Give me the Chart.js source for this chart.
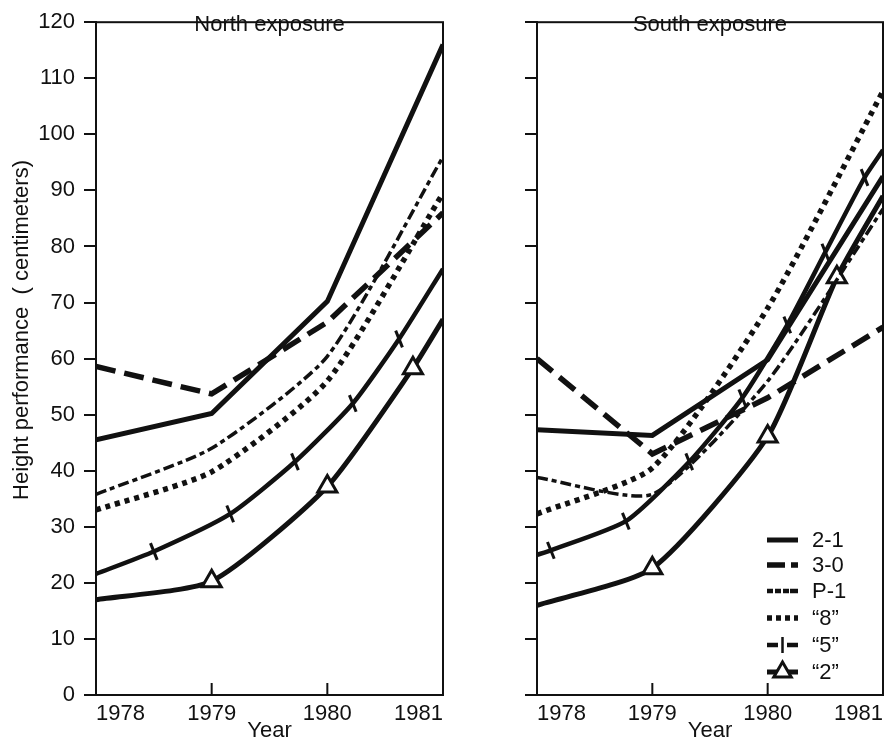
<!DOCTYPE html>
<html>
<head>
<meta charset="utf-8">
<script src="https://cdn.jsdelivr.net/npm/chart.js@4.4.0/dist/chart.umd.min.js"></script>
<style>
    body { margin: 0; background: #fff; }
    #wrap { position: relative; width: 886px; height: 744px; }
    .panel { position: absolute; top: 0; height: 744px; }
    #north { left: 0; width: 450px; }
    #south { left: 450px; width: 436px; }
</style>
</head>
<body>
<div id="wrap">
    <div class="panel" id="north"><canvas id="chartNorth"></canvas></div>
    <div class="panel" id="south"><canvas id="chartSouth"></canvas></div>
</div>
<script>
// values (height in cm)
let years = [1978, 1979, 1980, 1981];
let yTicks = [0, 120];
let seriesNames = ['2-1', '3-0', 'P-1', '“8”', '“5”', '“2”'];

// North exposure
let north21 = [45.5, 50.2, 70.2, 116];
let north30 = [58.6, 53.7, 66.5, 86];
let northP1 = [35.8, 44, 60.4, 96];
let north8 = [33, 39.8, 56, 89.5];
let north5Years = [1978, 1978.5, 1979.16, 1979.72, 1980.22, 1980.62, 1981];
let north5 = [21.6, 25.6, 32.3, 41.6, 52, 63.5, 76];
let north2Years = [1978, 1979, 1980, 1980.74, 1981];
let north2 = [17, 20.3, 37.2, 58.3, 67];

// South exposure
let south21 = [47.3, 46.3, 59.8, 92.5];
let south30 = [60, 43, 53, 65.6];
let southP1 = [38.8, 35.8, 56, 86.7];
let south8 = [32.3, 40.5, 69, 107.7];
let south5Years = [1978, 1978.12, 1978.77, 1979.32, 1979.78, 1980.17, 1980.5, 1980.84, 1981];
let south5 = [25, 25.8, 31, 41.6, 53, 66, 79, 92.3, 97.2];
let south2Years = [1978, 1979, 1980, 1980.6, 1981];
let south2 = [16, 22.6, 46.1, 74.5, 89];

const FONT = "'Liberation Sans', Arial, sans-serif";
const INK = '#111';

const styles = {
    '2-1': { width: 5, dash: [], tension: 0, legendDash: [] },
    '3-0': { width: 5.5, dash: [20, 9], tension: 0, legendDash: [18, 6] },
    'P-1': { width: 3.5, dash: [11, 4, 5, 4], tension: 0.2, legendDash: [6, 2, 6, 2, 6, 1, 12] },
    '“8”': { width: 5.5, dash: [5, 5], tension: 0.2, legendDash: [5, 4] },
    '“5”': { width: 4.5, dash: [], tension: 0.2, marker: 'line', legendDash: [11, 9] },
    '“2”': { width: 5, dash: [], tension: 0.2, marker: 'triangle', legendDash: [] }
};

function makeDataset(name, xs, ys) {
    const s = styles[name];
    const last = xs.length - 1;
    let radius = 0;
    if (s.marker) {
        radius = xs.map(function(x, i) {
            if (i === 0 || i === last) return 0;
            return s.marker === 'triangle' ? 11 : 9;
        });
    }
    return {
        label: name,
        data: xs.map(function(x, i) { return { x: x, y: ys[i] }; }),
        borderColor: INK,
        backgroundColor: '#fff',
        borderWidth: s.width,
        borderDash: s.dash,
        borderCapStyle: 'butt',
        tension: s.tension,
        pointStyle: s.marker || 'circle',
        pointRadius: radius,
        pointHoverRadius: 0,
        pointRotation: s.marker === 'line' ? 68 : 0,
        pointBorderWidth: 3,
        pointBackgroundColor: '#fff',
        pointBorderColor: INK
    };
}

function drawSwatch(ctx, name, x0, x1, y) {
    const s = styles[name];
    ctx.save();
    ctx.strokeStyle = INK;
    ctx.lineWidth = Math.max(s.width, 4.5);
    ctx.setLineDash(s.legendDash);
    ctx.beginPath();
    ctx.moveTo(x0, y);
    ctx.lineTo(x1, y);
    ctx.stroke();
    ctx.setLineDash([]);
    const mx = (x0 + x1) / 2;
    if (s.marker === 'line') {
        ctx.lineWidth = 2.5;
        ctx.beginPath();
        ctx.moveTo(mx, y - 8);
        ctx.lineTo(mx, y + 8);
        ctx.stroke();
    } else if (s.marker === 'triangle') {
        const r = 10;
        ctx.lineWidth = 3;
        ctx.fillStyle = '#fff';
        ctx.beginPath();
        ctx.moveTo(mx, y - r);
        ctx.lineTo(mx + r * 0.87, y + r * 0.5);
        ctx.lineTo(mx - r * 0.87, y + r * 0.5);
        ctx.closePath();
        ctx.fill();
        ctx.stroke();
    }
    ctx.restore();
}

const framePlugin = {
    id: 'frame',
    afterDraw(chart, args, opts) {
        const ctx = chart.ctx;
        const a = chart.chartArea;
        const xs = chart.scales.x;
        ctx.save();
        ctx.strokeStyle = INK;
        ctx.lineWidth = 2;
        ctx.setLineDash([]);
        ctx.strokeRect(a.left, a.top, a.right - a.left, a.bottom - a.top);

        // inward ticks on the year axis
        xs.ticks.forEach(function(t) {
            if (t.value > xs.min && t.value < xs.max) {
                const px = xs.getPixelForValue(t.value);
                ctx.beginPath();
                ctx.moveTo(px, a.bottom);
                ctx.lineTo(px, a.bottom - 12);
                ctx.stroke();
            }
        });

        ctx.fillStyle = INK;
        ctx.font = '22px ' + FONT;
        ctx.textAlign = 'center';
        ctx.textBaseline = 'middle';
        ctx.fillText(opts.title, (a.left + a.right) / 2, 25);

        if (opts.yTitle) {
            ctx.save();
            ctx.translate(22, 330);
            ctx.rotate(-Math.PI / 2);
            ctx.fillText(opts.yTitle, 0, 0);
            ctx.restore();
        }

        if (opts.legend) {
            const rows = [540, 565, 591, 618, 645, 672];
            ctx.textAlign = 'left';
            ctx.font = '22px ' + FONT;
            seriesNames.forEach(function(name, i) {
                drawSwatch(ctx, name, 317, 348, rows[i]);
                ctx.fillStyle = INK;
                ctx.fillText(name, 362, rows[i] + 1);
            });
        }
        ctx.restore();
    }
};

function createChart(id, datasets, showYLabels, axisWidth, padRight, frameOpts) {
    const ctx = document.getElementById(id).getContext('2d');
    return new Chart(ctx, {
        type: 'line',
        data: { datasets: datasets },
        plugins: [framePlugin],
        options: {
            responsive: true,
            maintainAspectRatio: false,
            animation: false,
            layout: { padding: { top: 10, right: padRight, left: 0, bottom: 0 } },
            plugins: {
                legend: { display: false },
                tooltip: { enabled: false },
                frame: frameOpts
            },
            scales: {
                x: {
                    type: 'linear',
                    min: years[0],
                    max: years[years.length - 1],
                    afterFit: function(scale) { scale.height = 49; },
                    border: { display: true, color: INK, width: 2 },
                    grid: { display: false },
                    ticks: {
                        stepSize: 1,
                        align: 'inner',
                        maxRotation: 0,
                        padding: -2,
                        color: INK,
                        font: { family: FONT, size: 22 },
                        callback: function(v) { return String(v); }
                    },
                    title: {
                        display: true,
                        text: 'Year',
                        color: INK,
                        font: { family: FONT, size: 22 },
                        padding: { top: 0, bottom: 0 }
                    }
                },
                y: {
                    min: yTicks[0],
                    max: yTicks[1],
                    afterFit: function(scale) { scale.width = axisWidth; },
                    border: { display: true, color: INK, width: 2 },
                    grid: { drawOnChartArea: false, drawTicks: true, tickLength: 12, color: INK, lineWidth: 2 },
                    ticks: {
                        stepSize: 10,
                        padding: 9,
                        color: INK,
                        font: { family: FONT, size: 22 },
                        callback: function(v) { return showYLabels ? String(v) : ''; }
                    }
                }
            }
        }
    });
}

let northSets = [
    makeDataset('2-1', years, north21),
    makeDataset('3-0', years, north30),
    makeDataset('P-1', years, northP1),
    makeDataset('“8”', years, north8),
    makeDataset('“5”', north5Years, north5),
    makeDataset('“2”', north2Years, north2)
];
let southSets = [
    makeDataset('2-1', years, south21),
    makeDataset('3-0', years, south30),
    makeDataset('P-1', years, southP1),
    makeDataset('“8”', years, south8),
    makeDataset('“5”', south5Years, south5),
    makeDataset('“2”', south2Years, south2)
];

let chartNorth = createChart('chartNorth', northSets, true, 96, 7,
    { title: 'North exposure', yTitle: 'Height performance  ( centimeters)' });
let chartSouth = createChart('chartSouth', southSets, false, 87, 3,
    { title: 'South exposure', legend: true });
</script>
</body>
</html>
